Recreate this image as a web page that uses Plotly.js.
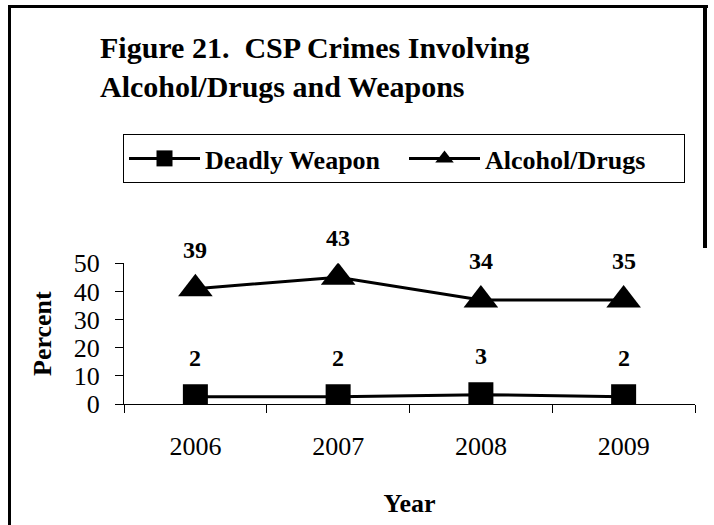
<!DOCTYPE html>
<html>
<head>
<meta charset="utf-8">
<script src="https://cdn.plot.ly/plotly-3.0.1.min.js"></script>
<style>
  html, body { margin: 0; padding: 0; background: #fff; }
  #wrap { position: relative; width: 714px; height: 525px; overflow: hidden; }
  #chart { width: 714px; height: 525px; }
  #frame { position: absolute; left: 8px; top: 5px; width: 700px; height: 540px;
           border-left: 3.5px solid #000; border-top: 3.5px solid #000;
           pointer-events: none; box-sizing: border-box; }
  #frameR { position: absolute; left: 703px; top: 5px; width: 3.5px; height: 243px;
            background: #000; pointer-events: none; }
</style>
</head>
<body>
<div id="wrap">
  <div id="chart"></div>
  <div id="frame"></div>
  <div id="frameR"></div>
</div>
<script>
// ---- data ----
const years = ['2006', '2007', '2008', '2009'];
const deadlyWeapon = [2.6, 2.6, 3.3, 2.6];      // plotted positions
const alcoholDrugs = [41, 45, 37, 37];          // plotted positions
const deadlyLabels = ['2', '2', '3', '2'];      // printed data labels
const alcoholLabels = ['39', '43', '34', '35']; // printed data labels
const yTicks = [0, 10, 20, 30, 40, 50];

const serif = 'Liberation Serif, Times New Roman, serif';

const traces = [
  {
    x: years, y: deadlyWeapon, name: 'Deadly Weapon', type: 'scatter', mode: 'lines+markers',
    line: { color: '#000', width: 3 },
    marker: { symbol: 'square', size: 25, color: '#000' }
  },
  {
    x: years, y: alcoholDrugs, name: 'Alcohol/Drugs', type: 'scatter', mode: 'lines+markers',
    line: { color: '#000', width: 3 },
    marker: { symbol: 'triangle-up', size: 30, color: '#000' }
  }
];

const labelFont = { family: serif, size: 24, weight: 'bold', color: '#000' };
const annotations = [];
years.forEach((yr, i) => {
  annotations.push({ x: i, y: deadlyWeapon[i], xref: 'x', yref: 'y', text: deadlyLabels[i],
    showarrow: false, yshift: 39, font: labelFont });
  annotations.push({ x: i, y: alcoholDrugs[i], xref: 'x', yref: 'y', text: alcoholLabels[i],
    showarrow: false, yshift: 39, font: labelFont });
});

const layout = {
  width: 714, height: 525,
  margin: { l: 0, r: 0, t: 0, b: 0 },
  paper_bgcolor: '#fff', plot_bgcolor: '#fff',
  font: { family: serif, color: '#000' },
  title: {
    text: 'Figure 21.&nbsp; CSP Crimes Involving<br>Alcohol/Drugs and Weapons',
    font: { family: serif, size: 30, weight: 'bold', color: '#000' },
    x: 100 / 714, xanchor: 'left', xref: 'paper',
    y: 1 - 58 / 525, yanchor: 'top', yref: 'container'
  },
  showlegend: true,
  legend: {
    orientation: 'h', x: 123 / 714, xanchor: 'left', y: 1 - 134 / 525, yanchor: 'top',
    bordercolor: '#000', borderwidth: 1, bgcolor: '#fff',
    font: { family: serif, size: 26, weight: 'bold', color: '#000' },
    itemwidth: 71, entrywidth: 194, entrywidthmode: 'pixels'
  },
  xaxis: {
    type: 'category', domain: [124 / 714, 695 / 714], range: [-0.5, 3.5],
    showgrid: false, zeroline: false, showline: true, linecolor: '#000', linewidth: 1,
    ticks: 'outside', tickson: 'boundaries', ticklen: 8, tickcolor: '#000', tickwidth: 1,
    tickfont: { family: serif, size: 26, color: '#000' }, ticklabelstandoff: 19,
    automargin: false, fixedrange: true,
    title: { text: 'Year', font: { family: serif, size: 26, weight: 'bold', color: '#000' }, standoff: 33 }
  },
  yaxis: {
    domain: [(525 - 404) / 525, (525 - 263.3) / 525], range: [0, 50],
    tickvals: yTicks, ticktext: yTicks.map(String),
    showgrid: false, zeroline: false, showline: true, linecolor: '#000', linewidth: 1,
    ticks: 'outside', ticklen: 8, tickcolor: '#000', tickwidth: 1,
    tickfont: { family: serif, size: 26, color: '#000' }, ticklabelstandoff: 10,
    automargin: false, fixedrange: true,
    title: { text: 'Percent', font: { family: serif, size: 26, weight: 'bold', color: '#000' }, standoff: 14 }
  },
  annotations: annotations
};

Plotly.newPlot('chart', traces, layout, { displayModeBar: false, staticPlot: true });
</script>
</body>
</html>
